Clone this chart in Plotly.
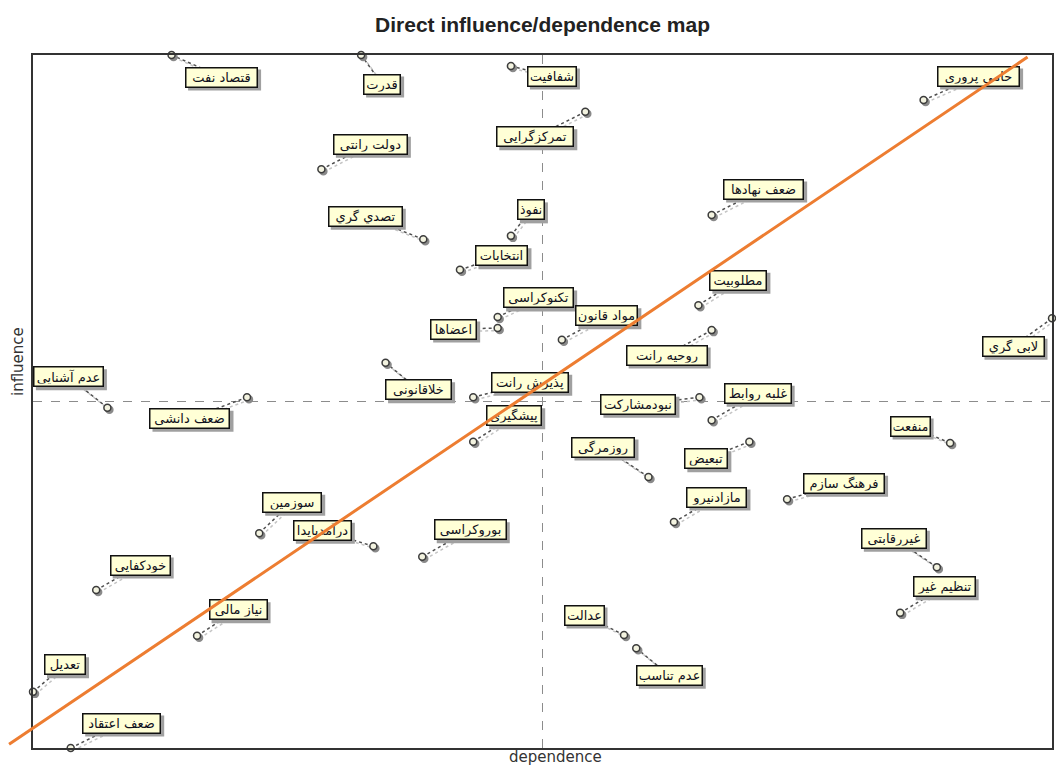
import plotly.graph_objects as go

# ---------------- data ----------------
names = [
    "قتصاد نفت", "قدرت", "شفافیت", "تمرکزگرایی", "دولت رانتی", "تصدي گري",
    "نفوذ", "انتخابات", "حامی پروری", "ضعف نهادها", "مطلوبیت", "تکنوکراسی",
    "اعضاها", "مواد قانون", "روحیه رانت", "لابی گري", "عدم آشنایی", "ضعف دانشی",
    "خلاقانونی", "پذیرش رانت", "پیشگیری", "نبودمشارکت", "غلبه روابط", "روزمرگی",
    "تبعیض", "مازادنیرو", "منفعت", "فرهنگ سازم", "غیررقابتی", "تنظیم غیر",
    "سوزمین", "درآمدپایدا", "خودکفایی", "نیاز مالی", "تعدیل", "ضعف اعتقاد",
    "بوروکراسی", "عدالت", "عدم تناسب",
]
dependence = [
    13.6, 32.2, 46.9, 54.2, 28.3, 38.3,
    46.9, 41.9, 87.4, 66.6, 65.3, 45.6,
    45.6, 51.9, 66.6, 100.0, 7.3, 21.0,
    34.6, 43.2, 43.2, 65.4, 66.6, 60.4,
    70.3, 62.9, 90.0, 74.0, 88.7, 85.1,
    22.2, 33.4, 6.2, 16.1, 0.0, 3.7,
    38.2, 58.0, 59.2,
]
influence = [
    100.0, 100.0, 98.4, 91.8, 83.5, 73.4,
    73.9, 69.0, 93.5, 76.9, 63.9, 62.2,
    60.6, 58.9, 60.3, 62.0, 49.1, 50.6,
    55.6, 50.6, 44.2, 50.6, 47.3, 39.1,
    44.2, 32.6, 44.0, 35.9, 26.1, 19.5,
    31.0, 29.1, 22.8, 16.2, 8.1, 0.0,
    27.6, 16.3, 14.4,
]
mid_dependence = 50.0
mid_influence = 50.0
diag_dependence = [-2.3, 97.6]
diag_influence = [0.4, 99.7]

# ---------------- layout / style (label placement and box sizes in pixels) ----------------
label_dx = [50, 21, 41, -50, 49, -58, 20, 42, 55, 52, 40, 41, -44, 45, -45, -39, -39, -57,
            33, 57, 41, -61, 46, -45, -43, 43, -40, 57, -43, 44, 33, -51, 44, 41, 32, 51,
            48, -40, 33]
label_dy = [22, 29, 10, 25, -25, -23, -26, -14, -24, -26, -25, -19, 1, -24, 25, 28, -31, 21,
            27, -15, -26, 7, -27, -30, 17, -25, -17, -16, -29, -26, -31, -16, -25, -26, -27, -25,
            -27, -20, 27]
box_w = [73, 38, 50, 78, 75, 75, 28, 53, 83, 81, 58, 71, 47, 63, 82, 63, 71, 81, 67, 78, 56,
         76, 68, 64, 44, 61, 41, 82, 66, 63, 60, 59, 61, 59, 42, 79, 73, 41, 67]
BOX_H = 21

W, H = 1056, 766
ML, MR, MT, MB = 33, 2, 55, 18
PW, PH = W - ML - MR, H - MT - MB
X_RANGE = [0, 100]
Y_RANGE = [0, 100]

def px_to_dx(p):
    return p / PW * (X_RANGE[1] - X_RANGE[0])

def px_to_dy(p):
    return -p / PH * (Y_RANGE[1] - Y_RANGE[0])

def to_paper_x(v):
    return (v - X_RANGE[0]) / (X_RANGE[1] - X_RANGE[0])

def to_paper_y(v):
    return (v - Y_RANGE[0]) / (Y_RANGE[1] - Y_RANGE[0])

LABEL_FONT = dict(family="DejaVu Sans", size=13, color="#101020")
BOX_BG = "#FFFFD6"
SHADOW = "#a0a0a0"
BW, BPAD = 1.5, 2

fig = go.Figure()

# leader lines (dotted, with a light shadow) from points to labels
lx, ly, sx, sy = [], [], [], []
for i in range(len(names)):
    x0, y0 = dependence[i], influence[i]
    x1 = x0 + px_to_dx(label_dx[i])
    y1 = y0 + px_to_dy(label_dy[i])
    lx += [x0, x1, None]
    ly += [y0, y1, None]
    sx += [x0 + px_to_dx(2.5), x1 + px_to_dx(2.5), None]
    sy += [y0 + px_to_dy(2.5), y1 + px_to_dy(2.5), None]

fig.add_trace(go.Scatter(x=sx, y=sy, mode="lines", hoverinfo="skip",
                         line=dict(color="#c4c4c4", width=1.5, dash="dot")))
fig.add_trace(go.Scatter(x=lx, y=ly, mode="lines", hoverinfo="skip",
                         line=dict(color="#505050", width=1.5, dash="dot")))

# point shadows and points
fig.add_trace(go.Scatter(
    x=[v + px_to_dx(2) for v in dependence], y=[v + px_to_dy(2) for v in influence],
    mode="markers", hoverinfo="skip", cliponaxis=False,
    marker=dict(size=7, color="#8a8a8a", line=dict(color="#8a8a8a", width=1.5))))
fig.add_trace(go.Scatter(
    x=dependence, y=influence, mode="markers", text=names, cliponaxis=False,
    hovertemplate="%{text}<br>dependence=%{x}<br>influence=%{y}<extra></extra>",
    marker=dict(size=7, color="#f3f3e0", line=dict(color="#3c3c3c", width=1.5))))

# box shadows as pixel-sized shapes anchored at each point
shapes = [
    dict(type="line", xref="x", yref="paper", x0=mid_dependence, x1=mid_dependence, y0=0, y1=1,
         line=dict(color="#8c8c8c", width=1, dash="dash"), layer="below"),
    dict(type="line", xref="paper", yref="y", x0=0, x1=1, y0=mid_influence, y1=mid_influence,
         line=dict(color="#8c8c8c", width=1, dash="dash"), layer="below"),
]
for i in range(len(names)):
    cx, cy = label_dx[i] + 3, -(label_dy[i] + 3)
    shapes.append(dict(
        type="rect", xref="paper", yref="paper", xsizemode="pixel", ysizemode="pixel",
        xanchor=to_paper_x(dependence[i]), yanchor=to_paper_y(influence[i]),
        x0=cx - box_w[i] / 2, x1=cx + box_w[i] / 2,
        y0=cy - BOX_H / 2, y1=cy + BOX_H / 2,
        fillcolor=SHADOW, line=dict(width=0), layer="above"))

annotations = []
for i in range(len(names)):
    annotations.append(dict(
        x=dependence[i], y=influence[i], xref="x", yref="y", text=names[i],
        showarrow=True, arrowcolor="rgba(0,0,0,0)", arrowhead=0,
        ax=label_dx[i], ay=label_dy[i],
        width=box_w[i] - 2 * BPAD - 2 * BW, height=BOX_H - 2 * BPAD - 2 * BW,
        align="center", valign="middle",
        bgcolor=BOX_BG, bordercolor="#111111", borderwidth=BW, borderpad=BPAD,
        font=LABEL_FONT))

# orange diagonal line drawn on top of the labels
annotations.append(dict(
    x=to_paper_x(diag_dependence[1]), y=to_paper_y(diag_influence[1]),
    xref="paper", yref="paper", text="", showarrow=True, arrowhead=0, standoff=0,
    arrowwidth=3, arrowcolor="#ED7D31",
    ax=(to_paper_x(diag_dependence[0]) - to_paper_x(diag_dependence[1])) * PW,
    ay=-(to_paper_y(diag_influence[0]) - to_paper_y(diag_influence[1])) * PH))

# axis titles
annotations.append(dict(x=(557 - ML) / PW, y=-(757 - (MT + PH)) / PH, xref="paper", yref="paper",
                        text="dependence", showarrow=False, xanchor="center", yanchor="middle",
                        font=dict(family="DejaVu Sans", size=15, color="#333333")))
annotations.append(dict(x=(18 - ML) / PW, y=((MT + PH) - 362) / PH, xref="paper", yref="paper",
                        text="influence", showarrow=False, textangle=-90,
                        xanchor="center", yanchor="middle",
                        font=dict(family="DejaVu Sans", size=15, color="#333333")))

fig.update_layout(
    width=W, height=H, autosize=False,
    margin=dict(l=ML, r=MR, t=MT, b=MB, pad=0),
    paper_bgcolor="white", plot_bgcolor="white",
    showlegend=False,
    title=dict(text="<b>Direct influence/dependence map</b>", x=0.5, xref="paper",
               y=1 - 25 / H, yref="container", xanchor="center", yanchor="middle",
               font=dict(family="Liberation Sans", size=21, color="#222222")),
    xaxis=dict(range=X_RANGE, showgrid=False, zeroline=False, showticklabels=False,
               ticks="", showline=True, linecolor="#333333", linewidth=1.5, mirror=True),
    yaxis=dict(range=Y_RANGE, showgrid=False, zeroline=False, showticklabels=False,
               ticks="", showline=True, linecolor="#333333", linewidth=1.5, mirror=True),
    annotations=annotations, shapes=shapes,
)

fig.write_html("out.html", config={"displayModeBar": False},
               post_script="document.body.style.margin='0';document.body.style.overflow='hidden';")
